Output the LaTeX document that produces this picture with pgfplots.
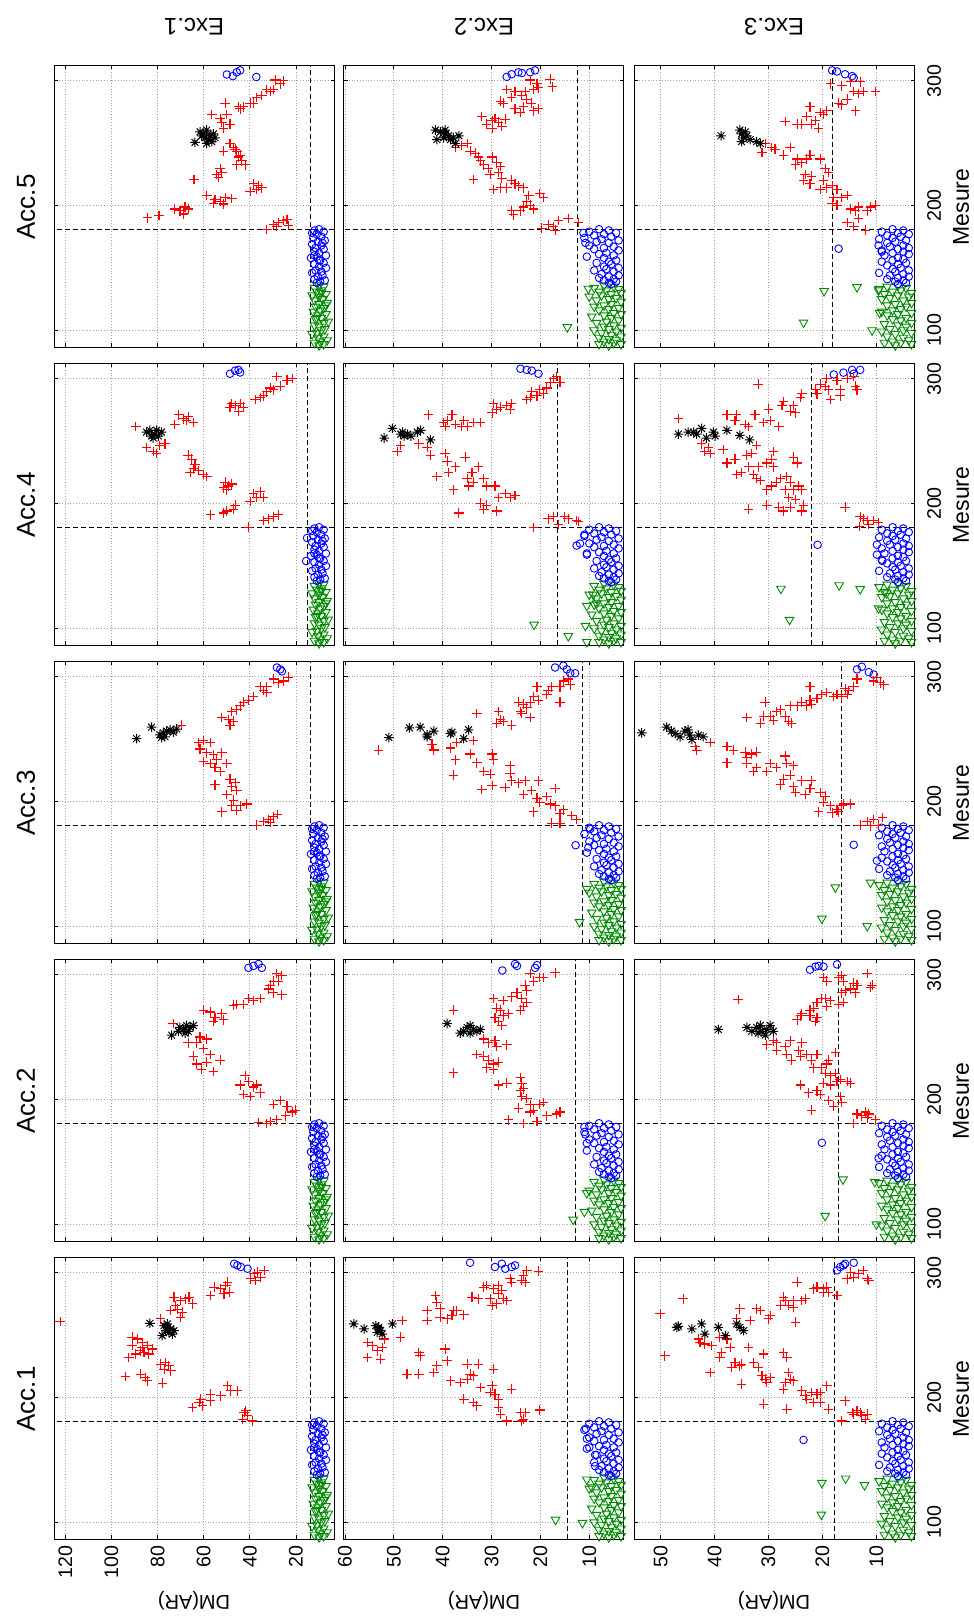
\documentclass[border=0pt]{standalone}
\usepackage{fontspec}
\setmainfont{Liberation Sans}
\usepackage{pgfplots}
\usepackage{pgfplotstable}
\pgfplotsset{compat=1.18}
\definecolor{mgreen}{rgb}{0,0.55,0}
\pgfdeclareplotmark{star8}{%
  \pgfpathmoveto{\pgfqpoint{0pt}{\pgfplotmarksize}}\pgfpathlineto{\pgfqpoint{0pt}{-\pgfplotmarksize}}%
  \pgfpathmoveto{\pgfqpoint{\pgfplotmarksize}{0pt}}\pgfpathlineto{\pgfqpoint{-\pgfplotmarksize}{0pt}}%
  \pgfpathmoveto{\pgfqpoint{0.707\pgfplotmarksize}{0.707\pgfplotmarksize}}\pgfpathlineto{\pgfqpoint{-0.707\pgfplotmarksize}{-0.707\pgfplotmarksize}}%
  \pgfpathmoveto{\pgfqpoint{0.707\pgfplotmarksize}{-0.707\pgfplotmarksize}}\pgfpathlineto{\pgfqpoint{-0.707\pgfplotmarksize}{0.707\pgfplotmarksize}}%
  \pgfusepathqstroke}
\pgfplotsset{
 rmark/.style={only marks, mark=+, mark size=2.4pt, color=red, line width=0.55pt},
 kmark/.style={only marks, mark=star8, mark size=2.4pt, color=black, line width=0.5pt},
 bmark/.style={only marks, mark=o, mark size=1.9pt, color=blue, line width=0.45pt},
 gmark/.style={only marks, mark=triangle, mark size=2.5pt, color=mgreen, line width=0.45pt, mark options={rotate=180}},
 thr/.style={black, dash pattern=on 2.5pt off 1.5pt, line width=0.5pt, no marks},
 panel/.style={scale only axis, width=140pt, height=141pt, anchor=north west,
   ymin=86.6, ymax=312.6, x dir=reverse, ytick={100,200,300},
   grid=major, major grid style={densely dotted, gray!70, line width=0.4pt},
   major tick length=1.8pt, tick style={black, line width=0.4pt},
   axis line style={line width=0.5pt},
   ticklabel style={font=\fontsize{9.8}{11}\selectfont},
   /pgf/number format/assume math mode=true,
   xticklabels={}, yticklabels={}},
 c1/.style={xmin=3.3, xmax=124.7, xtick={20,40,60,80,100,120}},
 c2/.style={xmin=2.9, xmax=60.2, xtick={10,20,30,40,50,60}},
 c3/.style={xmin=2.9, xmax=54.8, xtick={10,20,30,40,50}},
 bot1/.style={xticklabels={20,40,60,80,100,120}, xticklabel style={rotate=90, anchor=east}},
 bot2/.style={xticklabels={10,20,30,40,50,60}, xticklabel style={rotate=90, anchor=east}},
 bot3/.style={xticklabels={10,20,30,40,50}, xticklabel style={rotate=90, anchor=east}},
 rightlab/.style={yticklabel pos=right, ytick pos=both, yticklabels={100,200,300}, yticklabel style={rotate=90, anchor=north, inner sep=1pt}, yticklabel shift=5pt},
}
% blue / green bands per column
\pgfplotstableread{
x y
10 181
12 180
8 179
13 178
11 177
9 175
12.5 174
7.5 172
10.5 171
13 169
9 168
11.5 166
8 165
12 163
10 162
7 160
11 159
13.5 158
9.5 156
8 154
12 153
10 151
7 150
11.5 148
9 147
13 146
8.5 144
10.5 143
12 141
7.5 140
9.5 139
11 138
10 156
8.5 170
12 160
}\bandBa
\pgfplotstableread{
x y
10 136
8 135
12 134
9 132
11 131
7 129
13 128
10 127
8.5 125
12 124
6.5 122
10 121
11.5 119
8 118
9.5 116
12.5 115
7 113
10.5 112
9 110
11.5 109
6 107
8 106
12 104
10 103
7.5 101
9 100
11 98
13 97
8 95
10.5 94
6.5 92
9.5 91
12 90
8 89
10 88
11 110
7 120
9 130
}\bandGa
\pgfplotstableread{
x y
8 181
6 180
10 179
4.5 178
7 177
9 176
5.5 175
11 174
7.5 173
4 172
8.5 171
6 170
10 168
5 167
7 166
9 165
4 164
6.5 162
8 161
5 160
10.5 159
7 158
4.5 156
6 155
8.5 154
5.5 153
7 151
4 150
6.5 149
9 148
5 147
7.5 145
4 144
6 143
8 142
5 141
7 140
4.5 139
6 138
5.5 137
}\bandBb
\pgfplotstableread{
x y
7 136
5 135
9 134
4 133
6.5 132
8 131
3.5 130
5.5 129
7.5 128
10 127
4.5 126
6 125
8.5 124
3.5 123
5.5 121
7 120
9 119
4 118
6 117
8 116
5 114
3.5 113
7 112
9.5 111
5.5 110
4 108
6.5 107
8.5 106
5 104
7 103
3.5 102
6 101
9 100
4.5 99
7.5 98
5.5 96
3.5 95
8 94
6 93
4.5 92
7 91
5 90
3.5 89
6 88
8 89
}\bandGb
\pgfplotstableread{
x y
7 181
5 180
9 179
6 178
4 177
8 176
5.5 175
7 174
9.5 173
4.5 172
6.5 171
8 170
5 168
7.5 167
4 166
6 165
9 164
5 163
7 162
4 161
8.5 160
6 158
5 157
7 156
9 155
4.5 154
6 153
8 152
5.5 150
7 149
4 148
6.5 147
9.5 146
5 145
7.5 144
4 143
6 142
8 141
5 140
6.5 139
4.5 138
6 137
}\bandBc
\pgfplotstableread{
x y
6 136
8 135
4.5 134
9.5 133
5.5 132
7 131
3.5 130
8.5 129
6 128
4 127
7.5 126
9 125
5 124
3.5 122
6.5 121
8 120
4.5 119
5.5 117
7 116
9 115
3.5 114
6 113
8 112
4.5 110
7 109
5.5 108
3.5 106
8.5 105
6 104
4.5 103
7.5 101
5 100
9 99
3.5 98
6.5 97
8 95
5 94
4 92
7 91
5.5 90
3.5 89
6.5 88
8.5 90
}\bandGc
\begin{document}
\begin{tikzpicture}
\useasboundingbox (0,0) rectangle (487pt,-809.5pt);
% ===================== Exc.1 =====================
% Acc.5
\begin{axis}[panel, c1, at={(27.25pt,-32.5pt)}]
\addplot[gmark] table {\bandGa};
\addplot[bmark] table {\bandBa};
\addplot[bmark] coordinates {(50,305) (47.4,303.7) (45.7,306.8) (44.2,308.3) (37.2,303)};
\addplot[rmark] coordinates {(25.4,300) (26.8,297.5) (29,300.6) (29.7,292.9) (31.2,291.4) (32.6,292.9) (34.8,288.3) (37,286.7) (38.4,282.1) (39.9,282.1) (42.8,279) (44.2,277.5) (44.9,279) (50.7,282.1) (52.9,269.8) (52.2,266.7) (56.5,272.8) (50,272.8) (48.6,265.1) (51.4,262) (48.6,249.7) (47.1,246.6) (45.7,243.5) (44.9,238.9) (43.5,235.8) (42,232.7) (45.7,232.7) (44.2,240.4) (51.4,243.5) (46.4,245.1) (52.9,229.6) (54.3,225) (52.2,226.5) (53.6,222.8) (64.2,221) (38.4,217.3) (36.2,215.7) (37,212.7) (39.9,211.1) (34.8,214.2) (58.7,208) (55.1,204.9) (52.9,203.4) (50.7,206.5) (47.8,205.6) (55.8,201.9) (51.4,201.2) (72.5,197.2) (70.3,195.7) (68.1,198.8) (68.8,193.2) (66.7,197.2) (84.3,190.1) (79.4,192) (32.6,180.9) (29.7,184.9) (27.5,186.4) (25.4,188) (23.9,188.9) (23.2,184) (28.3,183.3)};
\addplot[kmark] coordinates {(61.6,259) (60.1,257.4) (58.7,260.5) (57.2,255.9) (58,252.8) (59.4,254.3) (55.8,257.4) (56.5,251.2) (60.9,255.9) (58.7,249.7) (63.8,250.6) (55.1,254.3)};
\addplot[thr] coordinates {(13.8,86.6) (13.8,312.6)};
\addplot[thr] coordinates {(0,180.5) (130,180.5)};
\end{axis}
% Acc.4
\begin{axis}[panel, c1, at={(27.25pt,-181.5pt)}]
\addplot[gmark] table {\bandGa};
\addplot[bmark] table {\bandBa};
\addplot[bmark] coordinates {(48.6,304) (46.4,306.5) (44.9,307.1) (44.2,305) (15.2,172.4) (15.6,153.9)};
\addplot[rmark] coordinates {(28.3,301.8) (26.8,294.1) (23.9,298.8) (21.7,300.3) (29.7,291.1) (31.2,292.6) (32.6,289.5) (34.1,286.4) (35.5,284.9) (37.7,283.4) (48.6,277.2) (46.4,278.7) (44.2,280.3) (42.8,277.2) (44.9,274.1) (47.8,280.3) (71,271) (68.8,267.9) (66.7,269.5) (64.5,264.9) (72.5,263.3) (67.4,266.4) (89.4,261.8) (84.8,244.8) (81.9,241.8) (79,246.4) (76.8,247.9) (80.4,240.2) (66.7,238.7) (65.2,235.6) (63.8,231) (62.3,226.4) (60.1,223.3) (58.7,221.7) (64.5,227.9) (65.9,224.8) (50.7,217.1) (49.3,214) (50,210.9) (47.8,215.6) (51.4,212.5) (46.4,198.6) (47.1,195.5) (50,194) (51.4,192.4) (57,190.9) (38.4,207.9) (37,204.8) (35.5,209.4) (34.1,204.8) (39.9,201.7) (34.1,186.3) (31.9,187.8) (29.7,189.4) (27.5,190.9) (40.6,181)};
\addplot[kmark] coordinates {(84.8,257.2) (83.3,258.7) (81.2,255.6) (79.7,254.1) (81.9,252.5) (78.3,257.2) (82.6,254.1) (80.4,258.7)};
\addplot[thr] coordinates {(15.2,86.6) (15.2,312.6)};
\addplot[thr] coordinates {(0,180.5) (130,180.5)};
\end{axis}
% Acc.3
\begin{axis}[panel, c1, at={(27.25pt,-330.5pt)}]
\addplot[gmark] table {\bandGa};
\addplot[bmark] table {\bandBa};
\addplot[bmark] coordinates {(28.3,307.4) (26.8,305.9) (26.1,304.3)};
\addplot[rmark] coordinates {(23.2,299.7) (25.4,296.6) (27.5,295.1) (29.7,298.2) (32.6,292) (34.1,288.9) (32.6,287.4) (35.5,292) (38.4,284.3) (40.6,281.2) (42.8,279.7) (44.2,276.6) (45.7,273.5) (47.8,272) (49.3,265.8) (48.6,261.2) (52.2,267.3) (47.1,264.3) (69.6,261.2) (62.3,247.3) (60.1,248.8) (57.2,247.3) (61.6,242.1) (58.7,239) (55.8,237.5) (52.2,239) (60.1,231.9) (57.2,230.4) (55.1,227.3) (52.9,224.2) (54.3,233.4) (50,230.4) (48.6,218) (46.4,214.9) (47.8,211.8) (45.7,208.8) (50,205.7) (47.1,201.1) (44.2,196.5) (41.3,198) (47.8,196.5) (52.2,191.8) (45.7,192.8) (55.1,213.4) (37,181) (34.1,184.1) (31.9,185.6) (29.7,187.8) (28,189.7) (31.2,183.4)};
\addplot[kmark] coordinates {(89.1,250.4) (82.6,259.6) (79,253.5) (77.5,255) (76.1,256.5) (74.6,257.5) (73.2,255.6) (76.8,251.9) (71.7,258.1) (78.3,251.3)};
\addplot[thr] coordinates {(13.8,86.6) (13.8,312.6)};
\addplot[thr] coordinates {(0,180.5) (130,180.5)};
\end{axis}
% Acc.2
\begin{axis}[panel, c1, at={(27.25pt,-479.5pt)}]
\addplot[gmark] table {\bandGa};
\addplot[bmark] table {\bandBa};
\addplot[bmark] coordinates {(40.6,305.5) (38.4,307.1) (36.2,308.6) (34.8,305.5)};
\addplot[rmark] coordinates {(28.3,300.9) (26.1,299.4) (29.7,294.8) (31.2,291.7) (31.9,288.6) (29.7,285.5) (27.5,294.8) (26.1,284) (35.5,280.9) (38.4,279.4) (40.6,280.9) (42.8,276.3) (45.7,276.3) (47.1,275.7) (52.2,268.6) (55.1,265.5) (57.2,270.1) (60.1,271.6) (51.4,263.9) (55.8,262.4) (73.2,260.9) (66.7,245.5) (63,245.5) (61.6,250.1) (58.7,248.5) (60.1,240.8) (57.2,236.2) (63,228.5) (60.9,223.9) (55.8,222.3) (52.9,231.6) (58.7,230) (64.5,234.7) (42,219.3) (40.6,214.6) (44.2,211.6) (38.4,210) (35.5,205.4) (42.8,203.9) (39.9,202.3) (37,211.6) (29.7,196.1) (26.8,199.2) (23.9,194.6) (21.7,190) (24.6,186.9) (28.3,183.8) (31.2,182.3) (36.2,181.7) (32.6,180.7) (20.3,191.5)};
\addplot[kmark] coordinates {(73.9,251.6) (70.3,257.8) (68.8,256.2) (67.4,259.3) (65.9,257.8) (64.5,259.3) (68.1,253.2) (66.7,254.7) (71,254.7)};
\addplot[thr] coordinates {(13.8,86.6) (13.8,312.6)};
\addplot[thr] coordinates {(0,180.5) (130,180.5)};
\end{axis}
% Acc.1
\begin{axis}[panel, c1, bot1, at={(27.25pt,-628.5pt)}]
\addplot[gmark] table {\bandGa};
\addplot[bmark] table {\bandBa};
\addplot[bmark] coordinates {(46.8,307.2) (45.4,305.9) (43.9,304.6) (41,303.2)};
\addplot[rmark] coordinates {(39.6,295.2) (38.1,299.2) (36.7,300.5) (35.2,296.5) (33.8,301.9) (37.4,293.8) (57,281.8) (55.5,288.5) (52.6,287.1) (50.4,289.8) (49,284.5) (51.2,283.1) (49.7,292.5) (72.9,280.4) (70,277.7) (67.8,279.1) (66.4,280.4) (64.9,275.1) (71.4,270.8) (69.3,268.4) (70,264.3) (72.2,273.7) (74.3,269.7) (122.2,260.9) (78.7,263) (91,248.3) (88.8,246.9) (86.7,244.2) (84.5,241.6) (82.3,238.9) (92.5,232.2) (89.6,234.9) (87.4,237.5) (85.9,236.2) (83.8,234.9) (91,241.6) (86.7,240.2) (93.9,216.9) (87.4,218.8) (85.2,216.1) (84.5,213.4) (78.7,226.8) (76.5,228.2) (75.1,225.5) (74.3,221.4) (77.2,222.8) (77.9,211.5) (64.9,192) (62,196) (60.6,193.3) (57,202.7) (57,197.3) (52.6,201.3) (49.7,209.4) (48.3,205.4) (45.4,205.4) (61.3,198.7) (42.5,187.9) (41,185.3) (43.2,182.6) (38.8,181.2) (41.7,189.3)};
\addplot[kmark] coordinates {(83.3,259.5) (77.2,257.6) (75.8,256.3) (74.3,255) (75.1,252.3) (76.5,253.6) (73.6,250.9) (72.9,253.6) (78,249.6) (75.8,259)};
\addplot[thr] coordinates {(13.5,86.6) (13.5,312.6)};
\addplot[thr] coordinates {(0,180.5) (130,180.5)};
\end{axis}
% ===================== Exc.2 =====================
% Acc.5
\begin{axis}[panel, c2, at={(172pt,-32.5pt)}]
\addplot[gmark] table {\bandGb};
\addplot[gmark] coordinates {(14.5,102.5) (10.2,133.3)};
\addplot[bmark] table {\bandBb};
\addplot[bmark] coordinates {(26.9,303.1) (25.9,305.2) (24.5,306.8) (23.8,306.2) (22.1,306.8) (21.1,308.3) (11.2,178) (10.8,170)};
\addplot[rmark] coordinates {(22.1,300.6) (20.7,297.5) (20.4,294.4) (18,301.2) (17.5,295.1) (21.4,292.9) (23.1,291.4) (25.2,291.4) (26.9,292.9) (28.2,283.6) (27.6,282.1) (25.9,286.7) (23.8,288.3) (22.8,285.2) (21.8,282.1) (23.5,279) (21.4,275.9) (20.4,277.5) (25.2,277.5) (24.1,274.4) (32,271.3) (31,265.1) (29.9,268.2) (29.3,269.8) (28.6,266.7) (27.9,263.6) (29.9,262) (27.2,269.1) (37.4,246.6) (36.1,248.1) (35,249.7) (34.4,243.5) (33.3,242) (32.7,238.9) (32.3,235.8) (31.6,232.7) (30.6,229.6) (29.9,238.9) (28.9,234.3) (28.2,231.2) (28.6,226.5) (27.9,221.9) (30.3,225) (33.7,221) (29.6,212.7) (28.2,214.2) (26.9,214.2) (25.9,220.4) (25.2,217.3) (24.5,215.7) (23.5,214.2) (22.4,208) (22.8,203.4) (22.1,200.3) (21.4,197.2) (23.5,198.8) (24.1,195.7) (25.5,192.6) (25.9,195.7) (20.1,209.6) (19.4,206.5) (19.7,181.8) (18.4,184.9) (17.3,183.3) (16.3,188) (14.3,189.5) (12.2,186.4) (17,180.2)};
\addplot[kmark] coordinates {(41.5,260.5) (40.5,259) (39.5,257.4) (38.8,255.9) (37.8,254.3) (36.7,255.9) (41.2,252.8) (39.8,254.3) (38.4,252.8) (39.5,260.5) (37.4,249.7)};
\addplot[thr] coordinates {(12.4,86.6) (12.4,312.6)};
\addplot[thr] coordinates {(0,180.5) (130,180.5)};
\end{axis}
% Acc.4
\begin{axis}[panel, c2, at={(172pt,-181.5pt)}]
\addplot[gmark] table {\bandGb};
\addplot[gmark] coordinates {(21.3,103) (14.3,93.8) (10.5,89) (10.8,102) (10.5,118) (8.5,120) (9.2,127)};
\addplot[bmark] table {\bandBb};
\addplot[bmark] coordinates {(24.1,308) (22.8,307.1) (21.8,306.5) (20.4,304) (12.6,166.3) (11.9,167.9) (11,175) (10.5,160)};
\addplot[rmark] coordinates {(16.7,301.8) (17.3,300.3) (16,297.2) (18,297.2) (18.7,292.6) (20.1,291.1) (19.4,288) (20.7,286.4) (21.8,289.5) (22.1,284.9) (22.8,283.4) (29.6,280.3) (28.9,275.7) (28.2,277.2) (29.9,272.6) (26.9,278.7) (25.9,280.3) (26.2,275.7) (42.9,271) (39.8,264.9) (39.1,266.4) (38.1,271) (37.4,263.3) (36.1,261.8) (35.7,266.4) (35,261.8) (33.7,264.9) (32.3,264.9) (39.5,261.8) (49.3,241.8) (48.6,246.4) (44.9,247.9) (43.2,244.8) (42.5,238.7) (39.5,240.2) (39.1,234) (35.4,237.1) (41.2,221.7) (37.8,210.9) (36.7,192.4) (38.8,224.8) (37.4,229.4) (35,220.2) (34,224.8) (32.7,229.4) (31.6,220.2) (31,214) (33.7,217.1) (34.7,214) (29.3,214) (28.6,204.8) (27.2,207.9) (26.2,204.8) (25.2,206.3) (32.3,200.2) (31.6,195.5) (31,198.6) (28.9,194) (21.4,180.7) (18.4,187.8) (17.3,189.4) (16.3,183.2) (15,189.4) (14.3,187.8) (12.6,186.3) (12.2,185.7)};
\addplot[kmark] coordinates {(52,252.5) (50.3,260.2) (48.6,255.6) (47.9,254.1) (47.2,255.6) (45.2,257.2) (44.5,258.7) (42.5,251) (48.2,257.2) (46.5,254.1)};
\addplot[thr] coordinates {(16.5,86.6) (16.5,312.6)};
\addplot[thr] coordinates {(0,180.5) (130,180.5)};
\end{axis}
% Acc.3
\begin{axis}[panel, c2, at={(172pt,-330.5pt)}]
\addplot[gmark] table {\bandGb};
\addplot[gmark] coordinates {(12,103.4) (10.5,130)};
\addplot[bmark] table {\bandBb};
\addplot[bmark] coordinates {(17,307.4) (15.3,308.9) (14.6,305.9) (12.9,302.8) (13.9,302.8) (12.8,165) (10.2,163.2) (9.8,178)};
\addplot[rmark] coordinates {(14.3,298.2) (13.9,293.5) (15.3,296.6) (16,292) (17.7,292) (18.4,288.9) (18.7,285.8) (20.7,292) (21.4,284.3) (20.4,281.2) (22.1,279.7) (23.5,278.1) (24.5,279.7) (24.1,272) (22.8,275.1) (16,279.7) (22.1,267.3) (23.8,270.4) (33,270.4) (28.6,272) (28.2,265.8) (27.6,264.3) (25.9,261.2) (28.9,262.7) (53.1,241.1) (42.2,245.9) (41.8,241.3) (38.4,242.9) (37.1,247.4) (37.4,233.4) (37.8,221.1) (33.7,248.8) (34.4,238.1) (33,231) (31.6,224.2) (29.9,238.1) (29.6,233.4) (30.3,222) (32,209.7) (29.9,212.8) (27.2,211.2) (26.2,228.8) (26.2,222.7) (25.9,216.5) (24.5,214.9) (23.1,216.5) (20.4,216.5) (23.5,205.7) (21.8,208.8) (20.7,202.6) (20.1,199.5) (18.7,204.1) (17,210.3) (18,198) (21.4,191.8) (17,196.5) (16,190.3) (15.3,193.4) (13.6,188.8) (12.6,185.7) (16,182.6) (17.7,182.6)};
\addplot[kmark] coordinates {(51,251.3) (46.8,259) (44.6,259.6) (43.2,251.9) (41.8,256.5) (38.4,254.4) (38.1,255.6) (35.7,250.4) (34.7,257.5) (43.2,253.5)};
\addplot[thr] coordinates {(11.4,86.6) (11.4,312.6)};
\addplot[thr] coordinates {(0,180.5) (130,180.5)};
\end{axis}
% Acc.2
\begin{axis}[panel, c2, at={(172pt,-479.5pt)}]
\addplot[gmark] table {\bandGb};
\addplot[gmark] coordinates {(13.3,103.7) (11,110) (10.5,125)};
\addplot[bmark] table {\bandBb};
\addplot[bmark] coordinates {(27.8,303.4) (25.2,308.6) (24.8,307.1) (21.1,305.5) (20.7,307.7) (10.5,165) (11,178) (10.8,172)};
\addplot[rmark] coordinates {(17,301.5) (19.4,297.8) (20.1,297.8) (22.1,300.9) (21.4,294.8) (23.1,291.7) (22.8,287.1) (24.8,285.5) (23.8,280.9) (22.8,277.8) (25.9,282.4) (27.6,279.4) (29.6,280.9) (28.9,273.2) (28.2,271.6) (27.6,267) (29.3,265.5) (28.6,262.4) (27.9,259.3) (26.5,268.6) (23.5,274.7) (24.1,271.6) (37.8,271.6) (31.6,248.5) (30.6,245.5) (29.3,247) (28.9,242.4) (26.9,243.9) (33,236.2) (31.6,234.7) (30.6,231.6) (29.6,228.5) (28.6,230) (31,225.4) (29.6,223.9) (37.8,221.4) (28.6,211.6) (26.9,213.1) (24.1,217.7) (23.8,213.1) (23.5,208.5) (24.1,206.9) (23.8,202.3) (22.8,200.8) (22.1,196.1) (24.5,193.1) (21.4,191.5) (20.1,196.1) (19.4,197.7) (18.7,186.9) (16.7,188.4) (16,190) (26.5,183.8) (23.5,180.7) (20.7,182.3) (22.1,190)};
\addplot[kmark] coordinates {(39.1,260.9) (36.4,253.2) (35.7,254.7) (35,257.8) (34.4,259.3) (33.7,256.2) (33,254.7) (32.3,256.2) (34.4,253.2)};
\addplot[thr] coordinates {(12.8,86.6) (12.8,312.6)};
\addplot[thr] coordinates {(0,180.5) (130,180.5)};
\end{axis}
% Acc.1
\begin{axis}[panel, c2, bot2, at={(172pt,-628.5pt)}]
\addplot[gmark] table {\bandGb};
\addplot[gmark] coordinates {(16.9,102.1) (11.4,99.5) (10.5,134.3) (9.5,128)};
\addplot[bmark] table {\bandBb};
\addplot[bmark] coordinates {(34.4,308) (29.3,304.6) (27.9,307.2) (27.2,303.2) (25.9,304.6) (25.2,305.9) (10.7,175) (10.5,167) (8.8,154) (8.8,145) (10,160)};
\addplot[rmark] coordinates {(22.8,301.9) (23.5,297.9) (23.8,293.8) (23.1,292.5) (20.4,301.3) (26.2,295.2) (25.9,292.5) (28.6,289.8) (27.9,285.8) (29.6,287.1) (28.6,283.1) (27.6,279.1) (30.3,279.1) (29.9,273.7) (31,289.8) (31.6,288.5) (34,280.4) (32.7,279.1) (26.9,277.7) (28.9,275.1) (41.5,281.8) (41.2,276.4) (43.2,269.7) (43.2,261.7) (40.5,271) (40.5,264.3) (39.1,263) (38.1,265.7) (37.8,269.7) (37.1,269.7) (35.7,266.2) (48.3,261.7) (48.6,248.3) (55.4,244.2) (54.4,241.6) (53.4,237.5) (52.4,240.2) (52.7,230.8) (55.4,232.2) (52,246.9) (44.9,236.2) (44.6,233.5) (39.5,238.9) (39.1,229.5) (41.2,225.5) (41.8,220.1) (44.9,218.8) (47.3,218.8) (38.4,213.4) (36.4,212.1) (35,214.7) (35,226.8) (34.4,218.8) (32.7,226.8) (33.7,217.4) (35.7,198.7) (33.7,196) (33,193.3) (32.3,208) (29.9,209.4) (30.3,204) (29.3,202.7) (28.6,198.7) (28.6,192) (28.2,186.6) (29.6,222.8) (25.9,206.7) (26.9,181.2) (24.1,187.9) (23.5,182.6) (23.1,187.9) (20.1,190) (23.8,181.2)};
\addplot[kmark] coordinates {(58.2,259) (56.1,255) (53.7,257.6) (53.1,256.3) (52.7,253.6) (53.4,252.3) (52.4,250.9) (50.3,259) (53.1,255)};
\addplot[thr] coordinates {(14.4,86.6) (14.4,312.6)};
\addplot[thr] coordinates {(0,180.5) (130,180.5)};
\end{axis}
% ===================== Exc.3 =====================
% Acc.5
\begin{axis}[panel, c3, rightlab, at={(317.35pt,-32.5pt)}]
\addplot[gmark] table {\bandGc};
\addplot[gmark] coordinates {(23.5,106.2) (19.7,131.5) (13.6,134.6) (10.8,100) (9.4,114) (9.6,132)};
\addplot[bmark] table {\bandBc};
\addplot[bmark] coordinates {(18.2,308.3) (17.3,307.4) (15.8,305.2) (14.5,303.7) (14.2,302.2) (17,165.4) (9.6,168) (9,163)};
\addplot[rmark] coordinates {(18.5,297.5) (16.4,296) (14.8,299.1) (14.2,291.4) (13,299.1) (12.4,291.4) (10.2,291.4) (13.3,289.8) (13.9,275.9) (15.4,285.2) (16.4,280.6) (17,282.1) (19.2,275.9) (19.8,272.8) (20.4,274.4) (22.3,279) (22.9,271.3) (23.8,265.1) (22,265.1) (20.7,262) (26.9,267.3) (24.7,265.1) (21.3,268.2) (30.6,249.7) (29.4,246.6) (28.8,245.1) (31.2,242.6) (27.2,240.4) (26,246.6) (24.7,237.3) (25,232.7) (23.8,234.3) (22.9,237.3) (22.3,240.4) (20.4,237.3) (19.5,229.6) (18.9,226.5) (23.2,225) (22,223.5) (23.5,220.4) (22.3,217.3) (19.8,220.4) (19.2,214.2) (18.2,215.7) (17.3,212.7) (20.4,212.7) (17.9,206.5) (16.4,206.5) (15.4,208) (17.3,200.3) (18.2,201.9) (14.8,197.2) (13.3,198.8) (13.9,195.7) (11.7,195.7) (11.1,198.8) (10.2,200.3) (13.3,189.5) (15.4,186.4) (14.2,183.3) (12,180.2)};
\addplot[kmark] coordinates {(38.8,255.9) (35.3,260.5) (35,257.4) (34.6,254.3) (34.3,259) (34,255.9) (35,251.2) (33.4,252.8) (32.2,251.2) (31.5,249.7)};
\addplot[thr] coordinates {(18.05,86.6) (18.05,312.6)};
\addplot[thr] coordinates {(0,180.5) (130,180.5)};
\end{axis}
% Acc.4
\begin{axis}[panel, c3, rightlab, at={(317.35pt,-181.5pt)}]
\addplot[gmark] table {\bandGc};
\addplot[gmark] coordinates {(27.7,131.7) (26.1,106.8) (16.9,134.5) (13,131.4) (9.6,116) (8.1,128)};
\addplot[bmark] table {\bandBc};
\addplot[bmark] coordinates {(17.9,303.4) (16.1,304.9) (14.5,307.1) (13,307.1) (14.2,304) (20.9,166.9) (9.9,167) (9.9,159) (8.9,154)};
\addplot[rmark] coordinates {(19.2,300.3) (20.4,295.7) (19.5,294.1) (18.9,291.1) (21.3,291.1) (21,288) (17.3,298.8) (16.7,291.1) (15.4,300.3) (14.2,301.8) (13.6,291.1) (13.9,294.1) (23.8,288) (24.1,284.9) (18.5,283.4) (16.7,286.4) (27.2,281.8) (27.5,278.7) (25.4,278.7) (26,274.1) (25,272.6) (31.9,295.7) (30,275.6) (29.7,266.4) (30.9,264.9) (32.5,271) (34.3,263.3) (35.9,271) (36.2,266.4) (37.7,271) (33.7,261.8) (28.1,261.8) (46.7,268) (42.4,247.9) (41.8,241.8) (41.1,244.8) (40.8,240.2) (38.4,243.3) (37.7,232.5) (36.2,235.6) (34,238.7) (33.1,240.2) (32.2,246.4) (35.9,223.3) (35,224.8) (33.7,229.4) (32.8,223.3) (31.9,229.4) (32.2,220.2) (31.5,218.6) (30.3,210.9) (29.4,214) (29.1,241.8) (29.4,235.6) (30.3,232.5) (29.1,229.4) (27.8,220.2) (26.6,221.7) (26,217.1) (26.9,210.9) (25.4,210.9) (24.4,214) (23.8,210.9) (25.4,237.1) (24.7,232.5) (28.5,217.1) (33.7,195.5) (30.3,198.6) (28.1,197.1) (27.2,194) (26,197.1) (23.8,194) (23.5,198.6) (25,203.2) (26.3,204.8) (15.8,197.1) (13,189.4) (12.4,187.8) (11.7,186.3) (10.5,186.3) (9.6,184.8) (13.1,181.7) (11.4,183.2)};
\addplot[kmark] coordinates {(46.7,255.6) (44.9,257.2) (43.9,257.2) (42.4,260.2) (41.5,252.5) (40.2,257.2) (39.9,254.1) (37.7,258.7) (35.3,254.7) (33.5,251) (43.3,255.6)};
\addplot[thr] coordinates {(21.95,86.6) (21.95,312.6)};
\addplot[thr] coordinates {(0,180.5) (130,180.5)};
\end{axis}
% Acc.3
\begin{axis}[panel, c3, rightlab, at={(317.35pt,-330.5pt)}]
\addplot[gmark] table {\bandGc};
\addplot[gmark] coordinates {(20.1,106.2) (17.6,131.2) (11.7,100.2) (11.1,135)};
\addplot[bmark] table {\bandBc};
\addplot[bmark] coordinates {(13.6,305.9) (12.7,308) (11.4,303.7) (10.5,301.8) (14.2,165.3) (9.9,152.6)};
\addplot[rmark] coordinates {(9.9,299.7) (9.3,295.1) (8.6,293.5) (10.5,296.6) (13.6,298.2) (14.2,292) (15.1,288.9) (15.4,285.8) (16.4,284.3) (17.3,285.8) (19.2,287.4) (20.1,285.8) (21,282.7) (22.3,281.2) (23.8,279.7) (22.9,276.6) (22,278.1) (24.7,276.6) (26,276.6) (27.8,273.5) (28.5,272) (26.3,264.3) (25.7,262.7) (26.9,268.3) (29.7,268.3) (30.6,279.7) (34,267.3) (31.5,262.7) (30.9,268.3) (29.1,265.2) (22.3,292) (17.9,284.3) (15.8,290.4) (43.6,244.2) (43.3,241.1) (40.8,247.3) (37.7,244.2) (36.5,241.1) (37.7,231) (34.3,239.6) (34,235) (33.1,238.1) (32.2,239.6) (34,230.4) (32.8,224.2) (32.2,227.3) (30.3,224.2) (29.7,230.4) (28.5,227.3) (26.9,236.5) (26.6,230.4) (25.4,228.8) (26,221.1) (27.2,218) (27.8,213.4) (25.4,211.8) (25,207.2) (23.8,216.5) (23.2,205.7) (22.3,210.3) (22,216.5) (20.4,207.2) (19.5,204.2) (19.8,199.5) (18.5,196.5) (17.3,193.4) (16.1,198) (14.8,198) (20.7,191.8) (18.2,190.9) (17,191.8) (16.4,197.1) (13,181) (11.7,184.1) (10.5,185.7) (8.9,187.2) (9.6,181) (11.1,180.6)};
\addplot[kmark] coordinates {(53.5,255) (48.9,259.6) (48,256.5) (47.3,254.4) (46.4,251.9) (45.5,256.5) (44.9,257.5) (44.6,253.2) (44.2,249.8) (43,253.2) (42.1,251.9)};
\addplot[thr] coordinates {(16.4,86.6) (16.4,312.6)};
\addplot[thr] coordinates {(0,180.5) (130,180.5)};
\end{axis}
% Acc.2
\begin{axis}[panel, c3, rightlab, at={(317.35pt,-479.5pt)}]
\addplot[gmark] table {\bandGc};
\addplot[gmark] coordinates {(19.5,106.8) (16.2,136) (10.3,134) (10,100)};
\addplot[bmark] table {\bandBc};
\addplot[bmark] coordinates {(22.3,304) (21.3,306.5) (20.7,307.1) (19.8,306.5) (17.3,308.3) (20.1,165.3) (9.6,153)};
\addplot[rmark] coordinates {(19.8,297.8) (19.2,294.8) (17,297.8) (16.4,299.4) (16.1,294.8) (14.2,293.2) (13.6,291.7) (13.9,285.5) (11.7,300.9) (10.8,291.7) (11.1,290.1) (14.8,288.6) (15.8,287.1) (16.4,285.5) (16.1,277.8) (17,276.3) (18.5,279.4) (19.5,280.9) (20.1,280.9) (19.2,274.7) (21,277.8) (21.6,273.2) (22.3,271.6) (23.8,268.6) (24.7,263.9) (24.1,267) (22.3,267) (21,265.5) (21.3,262.4) (35.6,280) (30.3,243.9) (29.1,247) (28.5,245.5) (26.9,242.4) (26,247) (23.8,245.5) (28.5,239.3) (26.6,236.2) (25.7,231.6) (24.4,239.3) (24.1,234.7) (22.9,236.2) (22,231.6) (21.6,225.4) (21,236.2) (19.2,228.5) (17.6,237.7) (18.9,231.6) (20.1,225.4) (19.5,220.8) (18.5,219.3) (17.6,220.8) (16.7,216.2) (15.4,214.6) (14.8,213.1) (24.1,211.6) (22.6,205.4) (21,206.9) (19.8,213.1) (18.5,211.6) (17.3,214.6) (20.4,203.9) (18.9,199.2) (16.7,202.3) (16.4,197.7) (22,191.5) (17.9,194.6) (14.2,180.7) (13.6,188.4) (12.7,186.9) (12,190) (11.4,188.4) (11.7,185.4) (10.2,183.8)};
\addplot[kmark] coordinates {(39.3,256.2) (34,257.8) (33.1,254.7) (32.2,257.8) (31.9,253.2) (31.2,254.7) (30.3,256.2) (29.7,259.3) (29.1,254.7) (31.5,259.3) (30.6,251.6)};
\addplot[thr] coordinates {(17,86.6) (17,312.6)};
\addplot[thr] coordinates {(0,180.5) (130,180.5)};
\end{axis}
% Acc.1
\begin{axis}[panel, c3, bot3, rightlab, at={(317.35pt,-628.5pt)}]
\addplot[gmark] table {\bandGc};
\addplot[gmark] coordinates {(20.1,131.6) (20.2,106.2) (15.7,135.1) (12.2,129.8)};
\addplot[bmark] table {\bandBc};
\addplot[bmark] coordinates {(17.3,301.9) (16.7,304.6) (16.1,305.9) (15.8,307.2) (14.2,308) (23.5,166)};
\addplot[rmark] coordinates {(14.8,300.5) (14.2,296.5) (13.3,299.2) (12.4,301.9) (11.7,295.2) (11.4,293.8) (15.4,295.2) (24.7,292.5) (21.6,287.1) (21,288.5) (19.8,287.1) (19.2,288.5) (18.9,284.5) (17.3,281.8) (19.8,284.5) (27.2,280.4) (26.9,277.7) (25.4,277.7) (23.8,277.7) (23.2,279.1) (27.8,273.7) (26.3,273.7) (25.4,272.4) (32.2,271) (31.5,269.7) (29.7,265.7) (30,263) (33.4,261.7) (35.3,271) (35.9,263) (50.1,267) (45.8,279.1) (25,260.3) (43,246.9) (42.7,244.2) (41.8,242.9) (40.5,241.6) (39,248.3) (37.7,246.9) (37.1,240.2) (38.7,236.2) (39,232.2) (36.2,228.2) (36.8,224.1) (35.3,225.5) (35,226.8) (33.7,240.2) (32.8,228.2) (31.9,224.1) (30.9,234.9) (31.2,217.4) (30.6,214.7) (29.7,216.1) (30.3,212.1) (27.2,236.2) (26.6,232.2) (26.3,220.1) (26,214.7) (26.9,212.1) (27.2,206.7) (25.4,213.4) (23.8,205.4) (23.2,201.3) (22.9,198.7) (22,204) (21,202.7) (20.4,204) (21.6,196) (20.4,196) (19.2,209.4) (18.9,190.6) (26.6,190.6) (30.9,194.6) (35,210.7) (40.8,220.1) (49.2,233.5) (15.8,197.3) (16.4,181.2) (14.5,187.9) (13.6,189.3) (13,187.9) (12.7,185.3) (11.7,186.6) (12,182.6) (14.2,186.6)};
\addplot[kmark] coordinates {(47,256.3) (46.7,257.1) (44.2,255) (42.4,259) (41.8,250.9) (39.3,256.3) (38,249.6) (35.9,259) (34.6,253.6) (35.3,256.3)};
\addplot[thr] coordinates {(17.8,86.6) (17.8,312.6)};
\addplot[thr] coordinates {(0,180.5) (130,180.5)};
\end{axis}
% ===================== labels =====================
\foreach \lab/\yy in {Acc.5/103.5, Acc.4/252.5, Acc.3/401.5, Acc.2/550.5, Acc.1/699.5}{
  \node[rotate=90, font=\fontsize{13}{15}\selectfont] at (13pt,-\yy pt) {\lab};
  \node[rotate=90, font=\fontsize{11.5}{13}\selectfont] at (480.5pt,-\yy pt) {Mesure};
}
\foreach \lab/\xx in {Exc.1/97, Exc.2/242, Exc.3/387}{
  \node[rotate=180, font=\fontsize{12}{14}\selectfont] at (\xx pt,-13.5pt) {\lab};
  \node[rotate=180, font=\fontsize{10}{12}\selectfont] at (\xx pt,-800.5pt) {DM(AR)};
}
\end{tikzpicture}
\end{document}
